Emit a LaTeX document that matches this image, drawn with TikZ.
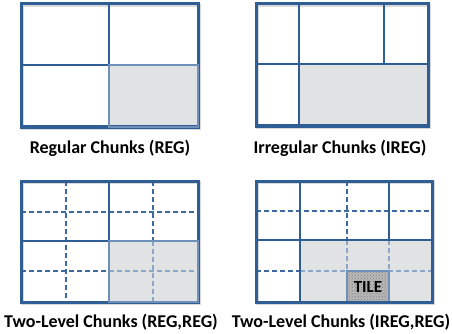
\documentclass[tikz,border=0pt]{standalone}
\usepackage{fontspec}
\setmainfont{Carlito}
\usetikzlibrary{patterns}
\definecolor{gridblue}{HTML}{2E5E94}
\definecolor{lightblue}{HTML}{6F90B8}
\definecolor{dashblue}{HTML}{3D6A9E}
\definecolor{shade}{HTML}{E1E2E4}
\tikzset{
  solidline/.style={draw=gridblue, line width=2.9pt},
  outerbox/.style={draw=gridblue, line width=3pt, line join=miter},
  dashline/.style={draw=dashblue, line width=1.6pt, dash pattern=on 4.5pt off 3.5pt},
  dashshade/.style={draw=lightblue!80, line width=1.4pt, dash pattern=on 4.5pt off 3.5pt},
  shadecell/.style={fill=shade},
  shadeedge/.style={draw=lightblue, line width=2.8pt},
  caption/.style={font=\fontsize{18}{20}\selectfont\bfseries, text=black, inner sep=0pt, anchor=base},
  shadowbox/.style={draw=black!15, line width=3pt},
}
\begin{document}
\begin{tikzpicture}[x=1pt,y=-1pt]
\useasboundingbox (0,0) rectangle (452,334);
\fill[white] (0,0) rectangle (452,334);

% ---------- Panel 1: Regular Chunks ----------
\draw[shadowbox] (22.5,5.5) rectangle (199.5,128.5);
\fill[shadecell] (109,65) rectangle (198,127);
\draw[solidline] (109,4) -- (109,127);
\draw[solidline] (21,65) -- (198,65);
\draw[outerbox] (21,4) rectangle (198,127);
\draw[shadeedge] (109,65) rectangle (198,127);
\node[caption] (c1) at (110,153) {Regular Chunks (REG)};

% ---------- Panel 2: Irregular Chunks ----------
\draw[shadowbox] (257.5,5.5) rectangle (429.5,127.5);
\fill[shadecell] (299,64) rectangle (428,126);
\draw[solidline] (299,4) -- (299,126);
\draw[solidline] (384,4) -- (384,64);
\draw[solidline] (256,64) -- (428,64);
\draw[outerbox] (256,4) rectangle (428,126);
\node[caption] (c2) at (340,153) {Irregular Chunks (IREG)};

% ---------- Panel 3: Two-Level (REG,REG) ----------
\draw[shadowbox] (22.5,182.5) rectangle (199.5,303.5);
\fill[shadecell] (109,241) rectangle (198,302);
\draw[dashline] (66,181) -- (66,302);
\draw[dashline] (21,212) -- (198,212);
\draw[dashline] (21,271) -- (109,271);
\draw[dashline] (153,181) -- (153,241);
\draw[dashshade] (153,241) -- (153,302);
\draw[dashshade] (109,271) -- (198,271);
\draw[solidline] (109,181) -- (109,302);
\draw[solidline] (21,241) -- (198,241);
\draw[outerbox] (21,181) rectangle (198,302);
\draw[shadeedge] (109,241) rectangle (198,302);
\node[caption] (c3) at (111,327) {Two-Level Chunks (REG,REG)};

% ---------- Panel 4: Two-Level (IREG,REG) ----------
\draw[shadowbox] (257.5,182.5) rectangle (433.5,303.5);
\fill[shadecell] (300,240) rectangle (432,302);
\draw[dashline] (256,211) -- (432,211);
\draw[dashline] (256,271) -- (300,271);
\draw[dashline] (347,181) -- (347,240);
\draw[dashshade] (347,240) -- (347,302);
\draw[dashshade] (300,271) -- (432,271);
\draw[dashshade] (389,240) -- (389,302);
\fill[black!28] (347,271) rectangle (389,302);
\fill[pattern=crosshatch dots, pattern color=black!50] (347,271) rectangle (389,302);
\draw[draw=lightblue, line width=1.2pt] (347,271) rectangle (389,302);
\node[font=\fontsize{17}{19}\selectfont\bfseries, inner sep=0pt] (tile) at (368,287) {TILE};
\draw[solidline] (300,181) -- (300,302);
\draw[solidline] (389,181) -- (389,240);
\draw[solidline] (256,240) -- (432,240);
\draw[outerbox] (256,181) rectangle (432,302);
\node[caption] (c4) at (341,327) {Two-Level Chunks (IREG,REG)};
\end{tikzpicture}
\end{document}
